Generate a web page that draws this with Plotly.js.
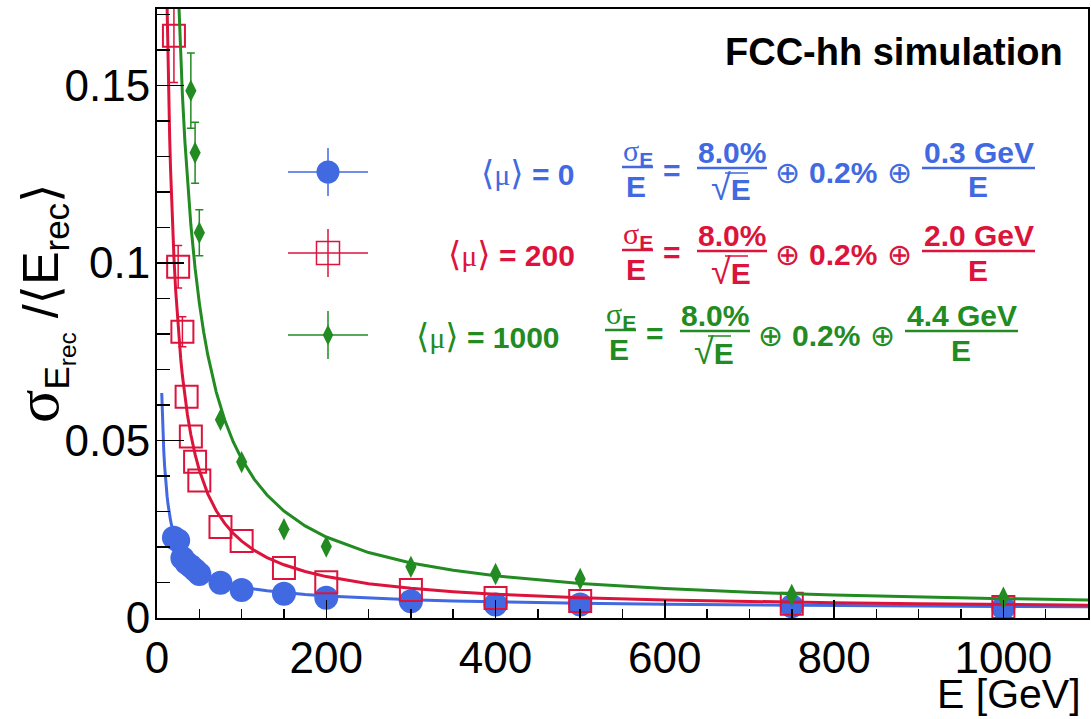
<!DOCTYPE html>
<html><head><meta charset="utf-8">
<script src="https://cdn.plot.ly/plotly-3.0.1.min.js"></script>
<style>body{margin:0;background:#fff}#chart{width:1091px;height:719px}</style>
</head><body><div id="chart"></div>
<script>
// ---- data ----
const energies = [20,25,30,35,40,45,50,75,100,150,200,300,400,500,750,1000];
const resMu0   = [0.0226,0.0218,0.0169,0.0155,0.0146,0.0135,0.0124,0.0099,0.0079,0.0068,0.0057,0.0047,0.0038,0.0038,0.0033,0.0028];
const resMu200 = [0.164,0.0989,0.0806,0.0623,0.0511,0.0440,0.0387,0.0256,0.0217,0.0141,0.0101,0.0079,0.0056,0.0048,0.0040,0.0031];
const errMu200 = [0.0132,0.006,0.0042,0,0,0,0,0,0,0,0,0,0,0,0,0];
const energiesMu1000 = [40,45,50,75,100,150,200,300,400,500,750,1000];
const resMu1000 = [0.1485,0.131,0.1085,0.0558,0.0439,0.0250,0.0201,0.0144,0.0124,0.0110,0.0065,0.0057];
const errMu1000 = [0.0106,0.0086,0.0065,0,0,0,0,0,0,0,0,0];
// fit parameters shown in the legend: stochastic, constant, noise (GeV)
const fitStochastic = [0.080, 0.080, 0.080];
const fitConstant   = [0.002, 0.002, 0.002];
const fitNoise      = [0.3, 2.0, 4.4];
const fitEnergies = [5.6,6,6.5,7,7.5,8,9,10,11,12,13,14,15,16,18,20,22,24,26,28,30,33,36,40,45,50,55,60,70,80,90,100,115,130,150,175,200,250,300,350,400,500,600,700,800,900,1000,1100];
const seriesLabels = ['0','200','1000'];
const noiseLabels = ['0.3 GeV','2.0 GeV','4.4 GeV'];
const colors = ['rgb(65,105,225)','rgb(220,20,60)','rgb(34,139,34)'];

function fitCurve(i){
  return fitEnergies.map(E => Math.sqrt(Math.pow(fitStochastic[i]/Math.sqrt(E),2)+Math.pow(fitConstant[i],2)+Math.pow(fitNoise[i]/E,2)));
}
// errors of zero are not drawn at all (no caps)
const visibleErr = arr => arr.map(v => v > 0 ? v : NaN);

// ---- pixel helpers for layout placement ----
const L=157, R=1088, T=9, B=618;
const px = X => (X-L)/(R-L);
const py = Y => (B-Y)/(B-T);
const SANS='Liberation Sans, Arial, sans-serif';
const SERIF='Liberation Serif, Times New Roman, serif';
const SYM='DejaVu Sans, sans-serif';

const traces = [];
traces.push({x:energies, y:resMu0, type:'scatter', mode:'markers',
  marker:{symbol:'circle', size:24, color:colors[0], line:{width:0}}, showlegend:false, hoverinfo:'skip'});
traces.push({x:fitEnergies, y:fitCurve(0), type:'scatter', mode:'lines', line:{color:colors[0], width:3}, showlegend:false, hoverinfo:'skip'});
traces.push({x:energies, y:resMu200, type:'scatter', mode:'markers',
  error_y:{type:'data', array:visibleErr(errMu200), visible:true, color:colors[1], thickness:1.5, width:4},
  marker:{symbol:'square-open', size:22, color:colors[1], line:{width:2, color:colors[1]}}, showlegend:false, hoverinfo:'skip'});
traces.push({x:fitEnergies, y:fitCurve(1), type:'scatter', mode:'lines', line:{color:colors[1], width:3}, showlegend:false, hoverinfo:'skip'});
traces.push({x:energiesMu1000, y:resMu1000, type:'scatter', mode:'markers',
  error_y:{type:'data', array:visibleErr(errMu1000), visible:true, color:colors[2], thickness:1.5, width:4},
  marker:{symbol:'diamond-tall', size:16, color:colors[2], line:{width:0}}, showlegend:false, hoverinfo:'skip'});
traces.push({x:fitEnergies, y:fitCurve(2), type:'scatter', mode:'lines', line:{color:colors[2], width:3}, showlegend:false, hoverinfo:'skip'});

// legend keys drawn on a pixel-space overlay axis
const keySymbols = [{symbol:'circle',size:23},{symbol:'square-open',size:23},{symbol:'diamond-tall',size:15}];
const rowY = [172,253,335];
for(let i=0;i<3;i++){
  traces.push({x:[328], y:[rowY[i]], xaxis:'x2', yaxis:'y2', type:'scatter', mode:'markers',
    error_x:{type:'data', array:[40], width:0, thickness:1.5, color:colors[i]},
    error_y:{type:'data', array:[24], width:0, thickness:1.5, color:colors[i]},
    marker:{symbol:keySymbols[i].symbol, size:keySymbols[i].size, color:colors[i], line:{width: i===1?1.5:0, color:colors[i]}},
    showlegend:false, hoverinfo:'skip'});
}

const annotations = [];
const shapes = [];
function ann(text, X, Y, size, color, xanchor, extra){
  const a = {xref:'paper', yref:'paper', x:px(X), y:py(Y), text:text, showarrow:false,
    xanchor:xanchor||'center', yanchor:'middle', font:{family:SANS, size:size, color:color||'black'}};
  return Object.assign(a, extra||{});
}
function hline(x0,x1,Y,color,w){
  shapes.push({type:'line', xref:'paper', yref:'paper', x0:px(x0), x1:px(x1), y0:py(Y), y1:py(Y), line:{color:color, width:w||2.5}});
}

const rowDX = [0,0,-17];
const rowDY = [0,83,163];
const labelRight = [577,577,562];
for(let i=0;i<3;i++){
  const dx=rowDX[i], dy=rowDY[i], c=colors[i];
  annotations.push(ann('<span style="font-family:'+SYM+';font-size:34px">⟨</span><span style="font-family:'+SERIF+'">μ</span><span style="font-family:'+SYM+';font-size:34px">⟩</span><b> = '+seriesLabels[i]+'</b>',
    labelRight[i], rowY[i]+1, 30, c, 'right'));
  // sigma_E / E
  annotations.push(ann('<span style="font-family:'+SERIF+'">σ</span><sub><b>E</b></sub>', 637.5+dx, 152+dy, 30, c));
  hline(622+dx, 653+dx, 167+dy, c);
  annotations.push(ann('<b>E</b>', 636+dx, 186+dy, 30, c));
  annotations.push(ann('<b>=</b>', 671.5+dx, 170+dy, 30, c));
  // 8.0% / sqrt(E)
  annotations.push(ann('<b>8.0%</b>', 732+dx, 152+dy, 30, c));
  hline(697+dx, 767+dx, 168+dy, c);
  annotations.push(ann('<span style="font-size:36px">√</span><b>E</b>', 731+dx, 188+dy, 30, c));
  hline(725+dx, 748+dx, 173+dy, c, 1.5);
  annotations.push(ann('<span style="font-family:'+SYM+'">⊕</span>', 787.5+dx, 172+dy, 30, c));
  annotations.push(ann('<b>0.2%</b>', 842.5+dx, 172+dy, 30, c));
  annotations.push(ann('<span style="font-family:'+SYM+'">⊕</span>', 899.5+dx, 172+dy, 30, c));
  annotations.push(ann('<b>'+noiseLabels[i]+'</b>', 978.5+dx, 152+dy, 30, c));
  hline(922+dx, 1035+dx, 168+dy, c);
  annotations.push(ann('<b>E</b>', 978+dx, 187+dy, 30, c));
}
annotations.push(ann('<b>FCC-hh simulation</b>', 1065, 52, 38, 'black', 'right'));
annotations.push(ann('E [GeV]', 1083, 694, 41, 'black', 'right'));
annotations.push(ann('<span style="font-family:'+SERIF+';font-size:62px">σ</span><sub>E<sub>rec</sub></sub> /<span style="font-family:'+SYM+'">⟨</span>E<sub>rec</sub><span style="font-family:'+SYM+'">⟩</span>',
  42, 303, 50, 'black', 'center', {textangle:-90}));

const tickfont = {family:SANS, size:44, color:'black'};
const layout = {
  width:1091, height:719,
  margin:{l:L, r:1091-R, t:T, b:719-B, pad:0},
  paper_bgcolor:'white', plot_bgcolor:'white',
  showlegend:false,
  xaxis:{range:[0,1100], dtick:200, tick0:0, ticks:'inside', ticklen:18, tickwidth:1.5, tickcolor:'black',
    showline:true, mirror:true, linecolor:'black', linewidth:2, zeroline:false, showgrid:false,
    tickfont:tickfont, minor:{dtick:50, ticks:'inside', ticklen:9, tickwidth:1.5, tickcolor:'black', showgrid:false}},
  yaxis:{range:[0,0.1715], dtick:0.05, tick0:0, ticks:'inside', ticklen:27, tickwidth:1.5, tickcolor:'black',
    showline:true, mirror:true, linecolor:'black', linewidth:2, zeroline:false, showgrid:false, ticklabelstandoff:-4,
    tickfont:tickfont, minor:{dtick:0.01, ticks:'inside', ticklen:13, tickwidth:1.5, tickcolor:'black', showgrid:false}},
  xaxis2:{overlaying:'x', range:[L,R], visible:false, fixedrange:true},
  yaxis2:{overlaying:'y', range:[B,T], visible:false, fixedrange:true},
  annotations:annotations,
  shapes:shapes
};
Plotly.newPlot('chart', traces, layout, {staticPlot:true, displayModeBar:false});
</script>
</body></html>
